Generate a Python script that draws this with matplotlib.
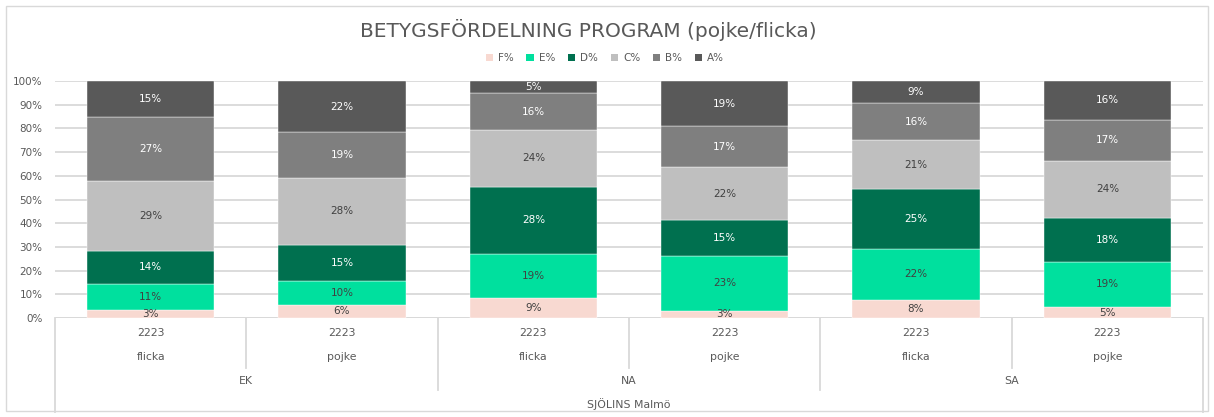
import matplotlib
matplotlib.use("Agg")
import matplotlib.pyplot as plt
from matplotlib.patches import Patch, Rectangle
import numpy as np

plt.rcParams['font.family'] = ['DejaVu Sans']

years = ["2223"] * 6
sexes = ["flicka", "pojke", "flicka", "pojke", "flicka", "pojke"]
programs = ["EK", "NA", "SA"]
school = "SJÖLINS Malmö"
title = "BETYGSFÖRDELNING PROGRAM (pojke/flicka)"

grades = ["F%", "E%", "D%", "C%", "B%", "A%"]
F_pct = [3.2, 5.6, 8.6, 3.0, 7.6, 4.6]
E_pct = [11.3, 10.1, 18.6, 23.3, 21.6, 19.2]
D_pct = [13.7, 15.3, 28.2, 14.9, 25.2, 18.4]
C_pct = [29.4, 28.1, 23.9, 22.4, 20.6, 24.1]
B_pct = [27.1, 19.3, 15.6, 17.4, 15.7, 17.3]
A_pct = [15.3, 21.6, 5.1, 19.0, 9.3, 16.4]

series = [F_pct, E_pct, D_pct, C_pct, B_pct, A_pct]
colors = ["#F8D9D1", "#00E09E", "#00704F", "#BFBFBF", "#7F7F7F", "#595959"]
label_colors = ["#404040", "#404040", "white", "#404040", "white", "white"]

W, H = 1214, 417
fig = plt.figure(figsize=(W / 100, H / 100), dpi=100)
fig.patch.set_facecolor("white")

# outer chart border
fig.add_artist(Rectangle((6 / W, 6 / H), (1208 - 6) / W, (411 - 6) / H,
                         transform=fig.transFigure, fill=False,
                         edgecolor="#D9D9D9", lw=1))

left, right, top, bottom = 55, 1203, 81, 318
ax = fig.add_axes([left / W, (H - bottom) / H, (right - left) / W, (bottom - top) / H])

x = np.arange(len(sexes))
cum = np.zeros(len(sexes))
for vals, col, lc, name in zip(series, colors, label_colors, grades):
    vals = np.array(vals)
    ax.bar(x, vals, bottom=cum, width=0.665, color=col, label=name,
           edgecolor="white", linewidth=0.3, zorder=3)
    for xi, b, v in zip(x, cum, vals):
        ax.text(xi, b + v / 2, f"{v:.0f}%", ha="center", va="center",
                fontsize=7.5, color=lc, zorder=4)
    cum += vals

ax.set_xlim(-0.5, len(sexes) - 0.5)
ax.set_ylim(0, 100)
ax.set_yticks(np.arange(0, 101, 10))
ax.set_yticklabels([f"{v}%" for v in range(0, 101, 10)], fontsize=7.5, color="#595959")
ax.tick_params(axis="y", length=0, pad=9)
ax.tick_params(axis="x", length=0, labelbottom=False)
ax.grid(axis="y", color="#D9D9D9", lw=1.3, zorder=0)
for s in ax.spines.values():
    s.set_visible(False)
ax.axhline(0, color="#D9D9D9", lw=1.3, zorder=2)

tr = ax.get_xaxis_transform()
ph = bottom - top
def ay(py):
    return (bottom - py) / ph

# category labels
for xi, yr, sx in zip(x, years, sexes):
    ax.text(xi, ay(333), yr, transform=tr, ha="center", va="center",
            fontsize=7.8, color="#595959", clip_on=False)
    ax.text(xi, ay(357), sx, transform=tr, ha="center", va="center",
            fontsize=7.8, color="#595959", clip_on=False)
for gi, pg in enumerate(programs):
    ax.text(2 * gi + 0.5, ay(381), pg, transform=tr, ha="center", va="center",
            fontsize=7.8, color="#595959", clip_on=False)
ax.text((len(sexes) - 1) / 2, ay(404), school, transform=tr, ha="center", va="center",
        fontsize=7.8, color="#595959", clip_on=False)

# separator lines
def vline(xv, yend):
    ax.plot([xv, xv], [0, ay(yend)], transform=tr, color="#D9D9D9", lw=1.3,
            clip_on=False, zorder=1)
for xv in [0.5, 2.5, 4.5]:
    vline(xv, 368)
for xv in [1.5, 3.5]:
    vline(xv, 390)
for xv in [-0.5, len(sexes) - 0.5]:
    vline(xv, 412)

fig.text(588 / W, 1 - 30 / H, title, ha="center", va="center",
         fontsize=14.5, color="#595959")

handles = [Patch(facecolor=c, edgecolor="none", label=g) for c, g in zip(colors, grades)]
fig.legend(handles=handles, loc="center", bbox_to_anchor=(605 / W, 1 - 58 / H),
           ncol=6, frameon=False, fontsize=7.5, handlelength=0.7, handleheight=0.7,
           handletextpad=0.5, columnspacing=1.2, labelcolor="#595959")

fig.savefig("out.png", dpi=100)
